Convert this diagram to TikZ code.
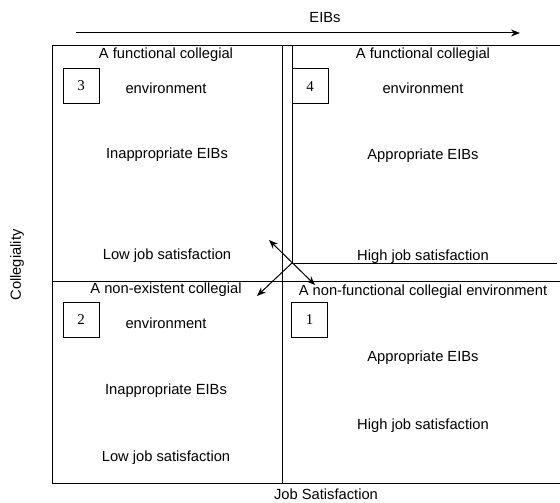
\documentclass[tikz,border=0pt]{standalone}
\usepackage{fontspec}
\setmainfont{Liberation Sans}
\newfontfamily\numfont{Liberation Serif}
\usetikzlibrary{arrows.meta}
\begin{document}
\begin{tikzpicture}[x=1pt,y=-1pt,
  lbl/.style={font=\fontsize{14.7}{16}\selectfont, inner sep=0pt, anchor=center},
  numbox/.style={draw, line width=1pt, minimum width=36pt, minimum height=35pt, inner sep=0pt, font=\numfont\fontsize{15}{17}\selectfont},
  frame/.style={line width=1pt},
  arr/.style={line width=1pt, -{Stealth[length=9pt,width=7pt]}},
  darr/.style={line width=1pt, {Stealth[length=9pt,width=7pt]}-{Stealth[length=9pt,width=7pt]}}
]
\useasboundingbox (0,0) rectangle (560,503);
% axis arrow
\coordinate (as) at (76,33);
\coordinate (ae) at (520,33);
\draw[arr] (as) -- (ae);
\node[lbl] (eibs) at (325,18) {EIBs};
% frame
\coordinate (tl) at (52,46);
\coordinate (tr) at (560,46);
\coordinate (bl) at (52,483);
\coordinate (br) at (560,483);
\draw[frame] (tr) -- (tl) -- (bl) -- (br);
\coordinate (vt) at (282,46);
\coordinate (vb) at (282,483);
\draw[frame] (vt) -- (vb);
\coordinate (ml) at (52,281);
\coordinate (mr) at (560,281);
\draw[frame] (ml) -- (mr);
\coordinate (it) at (292,46);
\coordinate (J) at (292,263);
\coordinate (ir) at (557,263);
\draw[frame] (it) -- (J) -- (ir);
% arrows at junction
\coordinate (ul) at (269,240);
\coordinate (lr) at (315,285);
\coordinate (ll) at (257,296);
\draw[darr] (ul) -- (lr);
\draw[arr] (J) -- (ll);
% number boxes
\node[numbox] (b3) at (81,86) {3};
\node[numbox] (b4) at (310,86.5) {4};
\node[numbox] (b2) at (81,319.5) {2};
\node[numbox] (b1) at (309.5,320) {1};
% quadrant 3
\node[lbl] (t3a) at (166,55) {A functional collegial};
\node[lbl] (t3b) at (166,88) {environment};
\node[lbl] (t3c) at (167,155) {Inappropriate EIBs};
\node[lbl] (t3d) at (167,256) {Low job satisfaction};
% quadrant 4
\node[lbl] (t4a) at (423,55) {A functional collegial};
\node[lbl] (t4b) at (423,88) {environment};
\node[lbl] (t4c) at (423,156) {Appropriate EIBs};
\node[lbl] (t4d) at (423,257) {High job satisfaction};
% quadrant 2
\node[lbl] (t2a) at (166,290) {A non-existent collegial};
\node[lbl] (t2b) at (166,323) {environment};
\node[lbl] (t2c) at (166,391) {Inappropriate EIBs};
\node[lbl] (t2d) at (166,458) {Low job satisfaction};
% quadrant 1
\node[lbl] (t1a) at (423,292) {A non-functional collegial environment};
\node[lbl] (t1c) at (423,358) {Appropriate EIBs};
\node[lbl] (t1d) at (423,426) {High job satisfaction};
% axis labels
\node[lbl] (js) at (326,494) {Job Satisfaction};
\node[lbl, rotate=90] (col) at (17,265) {Collegiality};
\end{tikzpicture}
\end{document}
